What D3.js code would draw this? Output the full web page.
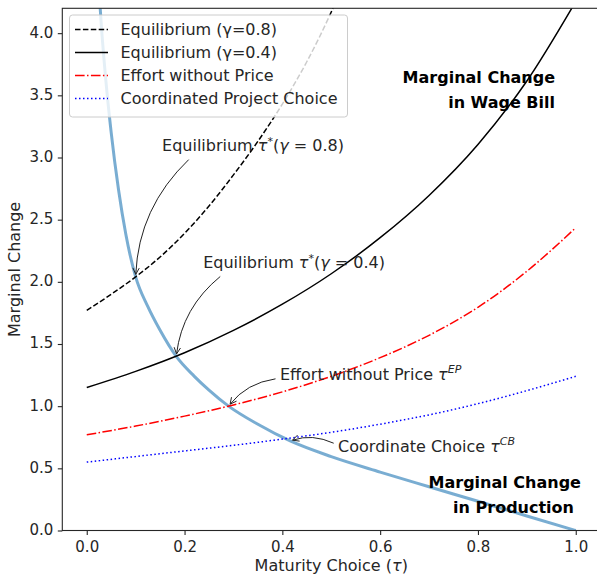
<!DOCTYPE html>
<html>
<head>
<meta charset="utf-8">
<script src="https://cdn.jsdelivr.net/npm/d3@7/dist/d3.min.js"></script>
<style>
  html, body { margin: 0; padding: 0; background: #fff; }
  svg { display: block; font-family: "DejaVu Sans", sans-serif; }
</style>
</head>
<body>
<svg id="chart" width="597" height="577"></svg>
<script>
// ---- data -------------------------------------------------------------
// Maturity choice grid shared by the upward-sloping curves
const tauGrid = [0, 0.1, 0.2, 0.3, 0.4, 0.5, 0.6, 0.7, 0.8, 0.9, 1.0];

// Marginal change in wage bill, equilibrium with gamma = 0.8 (leaves the frame near tau = 0.5)
const eq08Tau = [0, 0.05, 0.1, 0.15, 0.2, 0.25, 0.3, 0.35, 0.4, 0.45, 0.5, 0.55];
const eq08Val = [1.77, 1.90, 2.04, 2.20, 2.39, 2.61, 2.86, 3.13, 3.43, 3.77, 4.17, 4.64];

// Equilibrium with gamma = 0.4
const eq04Val = [1.15, 1.28, 1.43, 1.61, 1.82, 2.065, 2.355, 2.695, 3.105, 3.615, 4.255];

// Effort without price
const effortVal = [0.77, 0.84, 0.92, 1.01, 1.115, 1.24, 1.39, 1.57, 1.795, 2.085, 2.435];

// Coordinated project choice
const coordVal = [0.55, 0.595, 0.64, 0.685, 0.735, 0.79, 0.855, 0.93, 1.02, 1.125, 1.24];

// Marginal change in production (downward-sloping)
const prodTau = [0.02, 0.03, 0.04, 0.05, 0.065, 0.08, 0.1, 0.125, 0.15, 0.183, 0.22, 0.25,
                 0.29, 0.35, 0.416, 0.5, 0.6, 0.7, 0.8, 0.9, 1.0];
const prodVal = [4.65, 4.05, 3.58, 3.2, 2.74, 2.38, 2.04, 1.80, 1.61, 1.40, 1.24, 1.129,
                 1.0, 0.854, 0.72, 0.594, 0.47, 0.352, 0.235, 0.117, 0];

const xTicks = [0, 0.2, 0.4, 0.6, 0.8, 1.0];
const yTicks = [0, 0.5, 1.0, 1.5, 2.0, 2.5, 3.0, 3.5, 4.0];

const legendLabels = ["Equilibrium (\u03b3=0.8)", "Equilibrium (\u03b3=0.4)",
                      "Effort without Price", "Coordinated Project Choice"];

// Intersections marked with annotations: [tau, value]
const crossTau = [0.1, 0.183, 0.29, 0.416];
const crossVal = [2.04, 1.40, 1.0, 0.72];
// Arrow tails (data coords) and annotation text anchors (data coords)
const tailTau = [0.2085, 0.273, 0.386, 0.505];
const tailVal = [2.983, 2.043, 1.22, 0.702];
const noteTau = [0.154, 0.238, 0.395, 0.514];
const noteVal = [3.05, 2.111, 1.212, 0.634];

// ---- layout -----------------------------------------------------------
const svg = d3.select("#chart");
const L = 62.3, R = 600.2, T = 8.3, B = 530.5;
const x = d3.scaleLinear().domain([-0.05, 1.05]).range([L, R]);
const y = d3.scaleLinear().domain([0, 4.2]).range([B, T]);
const ink = "#262626";

svg.append("defs").append("clipPath").attr("id", "plotClip")
  .append("rect").attr("x", L).attr("y", T).attr("width", R - L).attr("height", B - T);

const plot = svg.append("g").attr("clip-path", "url(#plotClip)");

const line = d3.line().curve(d3.curveMonotoneX)
  .x(d => x(d[0])).y(d => y(d[1]));

const zip = (a, b) => a.map((v, i) => [v, b[i]]);

// production curve (drawn first, underneath)
plot.append("path").datum(zip(prodTau, prodVal))
  .attr("d", line).attr("fill", "none")
  .attr("stroke", "#1f77b4").attr("stroke-opacity", 0.6).attr("stroke-width", 3);

const series = [
  { data: zip(eq08Tau, eq08Val), color: "#000", dash: "5.5,2.4" },
  { data: zip(tauGrid, eq04Val), color: "#000", dash: null },
  { data: zip(tauGrid, effortVal), color: "#ff0000", dash: "9.6,2.4,1.5,2.4" },
  { data: zip(tauGrid, coordVal), color: "#0000ff", dash: "1.5,2.5" }
];

series.forEach(s => {
  plot.append("path").datum(s.data)
    .attr("d", line).attr("fill", "none")
    .attr("stroke", s.color).attr("stroke-width", 1.5)
    .attr("stroke-dasharray", s.dash);
});

// ---- axes -------------------------------------------------------------
const xAxis = svg.append("g").attr("transform", `translate(0,${B})`)
  .call(d3.axisBottom(x).tickValues(xTicks).tickFormat(d3.format(".1f"))
    .tickSize(4.5).tickPadding(5.9).tickSizeOuter(0));
const yAxis = svg.append("g").attr("transform", `translate(${L},0)`)
  .call(d3.axisLeft(y).tickValues(yTicks).tickFormat(d3.format(".1f"))
    .tickSize(4.5).tickPadding(4.5).tickSizeOuter(0));
[xAxis, yAxis].forEach(g => {
  g.select(".domain").remove();
  g.selectAll(".tick line").attr("stroke", ink).attr("stroke-width", 1.1);
  g.selectAll(".tick text").attr("fill", ink).attr("font-size", 15)
    .attr("font-family", "DejaVu Sans");
});
yAxis.selectAll(".tick text").attr("dy", "0.26em");

// spines
svg.append("rect").attr("x", L).attr("y", T).attr("width", R - L).attr("height", B - T)
  .attr("fill", "none").attr("stroke", ink).attr("stroke-width", 1.1);

// axis labels
const xl = svg.append("text").attr("x", (L + R) / 2).attr("y", 571)
  .attr("text-anchor", "middle").attr("font-size", 16).attr("fill", ink);
xl.append("tspan").text("Maturity Choice (");
xl.append("tspan").attr("font-style", "italic").text("\u03c4");
xl.append("tspan").text(")");

svg.append("text").attr("transform", `translate(20,${(T + B) / 2}) rotate(-90)`)
  .attr("text-anchor", "middle").attr("font-size", 16).attr("fill", ink)
  .text("Marginal Change");

// ---- bold curve labels -----------------------------------------------
const boldLabels = [
  { text: "Marginal Change", tau: 0.9576, val: 3.60 },
  { text: "in Wage Bill", tau: 0.9576, val: 3.40 },
  { text: "Marginal Change", tau: 1.0107, val: 0.34 },
  { text: "in Production", tau: 0.9964, val: 0.143 }
];
boldLabels.forEach(b => {
  svg.append("text").attr("x", x(b.tau)).attr("y", y(b.val))
    .attr("text-anchor", "end").attr("font-size", 16).attr("font-weight", "bold")
    .attr("fill", "#000").text(b.text);
});

// ---- annotations ------------------------------------------------------
const noteParts = [
  [["Equilibrium ", null], ["\u03c4", "it"], ["*", "sup"], ["(", null], ["\u03b3", "it"], [" = 0.8)", null]],
  [["Equilibrium ", null], ["\u03c4", "it"], ["*", "sup"], ["(", null], ["\u03b3", "it"], [" = 0.4)", null]],
  [["Effort without Price ", null], ["\u03c4", "it"], ["EP", "supit"]],
  [["Coordinate Choice ", null], ["\u03c4", "it"], ["CB", "supit"]]
];

const rad = 0.2, shrink = 2.5, headLen = 6.4, headW = 3.2;
crossTau.forEach((ct, i) => {
  const sx = x(tailTau[i]), sy = y(tailVal[i]);
  let ex = x(ct), ey = y(crossVal[i]);
  // arc3 control point (computed in y-up coordinates)
  const dx = ex - sx, dyUp = -(ey - sy);
  const mx = (sx + ex) / 2, myUp = -(sy + ey) / 2;
  const cx = mx + rad * dyUp, cy = -(myUp - rad * dx);
  // pull the tip back slightly along the end tangent
  let tx = ex - cx, ty = ey - cy;
  const tl = Math.hypot(tx, ty); tx /= tl; ty /= tl;
  ex -= tx * shrink; ey -= ty * shrink;
  svg.append("path")
    .attr("d", `M${sx},${sy}Q${cx},${cy} ${ex},${ey}`)
    .attr("fill", "none").attr("stroke", "#222").attr("stroke-width", 1);
  const bx = ex - tx * headLen, by = ey - ty * headLen;
  const px = -ty * headW, py = tx * headW;
  svg.append("path")
    .attr("d", `M${bx + px},${by + py}L${ex},${ey}L${bx - px},${by - py}`)
    .attr("fill", "none").attr("stroke", "#222").attr("stroke-width", 1);

  const t = svg.append("text").attr("x", x(noteTau[i])).attr("y", y(noteVal[i]))
    .attr("font-size", 16).attr("fill", ink);
  let shifted = false;
  noteParts[i].forEach(([s, kind]) => {
    const sp = t.append("tspan").text(s);
    if (kind === "it") sp.attr("font-style", "italic");
    if (kind === "sup" || kind === "supit") {
      sp.attr("font-size", 11).attr("dy", -6.5);
      if (kind === "supit") sp.attr("font-style", "italic");
      shifted = true;
    } else if (shifted) {
      sp.attr("dy", 6.5); shifted = false;
    }
  });
});

// ---- legend -----------------------------------------------------------
const leg = svg.append("g");
leg.append("rect").attr("x", 69.5).attr("y", 15).attr("width", 278).attr("height", 102)
  .attr("rx", 3).attr("fill", "#fff").attr("fill-opacity", 0.8)
  .attr("stroke", "#cccccc").attr("stroke-width", 1);
legendLabels.forEach((lab, i) => {
  const ry = 29.5 + i * 23;
  leg.append("line").attr("x1", 75).attr("x2", 108).attr("y1", ry).attr("y2", ry)
    .attr("stroke", series[i].color).attr("stroke-width", 1.5)
    .attr("stroke-dasharray", series[i].dash);
  leg.append("text").attr("x", 120.5).attr("y", ry).attr("dy", "0.36em")
    .attr("font-size", 16).attr("fill", ink).text(lab);
});
</script>
</body>
</html>
